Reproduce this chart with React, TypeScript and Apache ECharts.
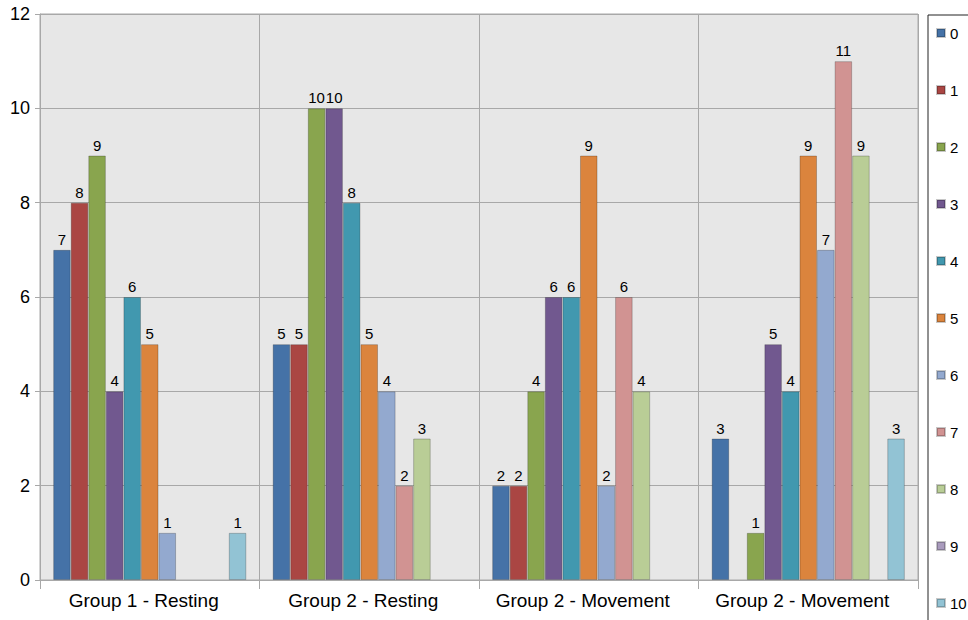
import React, { useEffect, useRef } from "react";
import * as echarts from "echarts";

// Category names along the x axis
const categories = [
  "Group 1 - Resting",
  "Group 2 - Resting",
  "Group 2 - Movement",
  "Group 2 - Movement",
];

// One series per legend entry (0..10); null = no bar
const s0 = [7, 5, 2, 3];
const s1 = [8, 5, 2, null];
const s2 = [9, 10, 4, 1];
const s3 = [4, 10, 6, 5];
const s4 = [6, 8, 6, 4];
const s5 = [5, 5, 9, 9];
const s6 = [1, 4, 2, 7];
const s7 = [null, 2, 6, 11];
const s8 = [null, 3, 4, 9];
const s9 = [null, null, null, null];
const s10 = [1, null, null, 3];

const seriesNames = ["0", "1", "2", "3", "4", "5", "6", "7", "8", "9", "10"];
const seriesValues = [s0, s1, s2, s3, s4, s5, s6, s7, s8, s9, s10];

const palette = [
  "#4572A7",
  "#AA4643",
  "#89A54E",
  "#71588F",
  "#4198AF",
  "#DB843D",
  "#93A9CF",
  "#D19392",
  "#B9CD96",
  "#A99BBD",
  "#92C3D4",
];

const FONT = "'Liberation Sans', Arial, Helvetica, sans-serif";

export default function App() {
  const ref = useRef<HTMLDivElement>(null);

  useEffect(() => {
    if (!ref.current) return;
    const chart = echarts.init(ref.current, null, { renderer: "svg" });
    chart.setOption({
      animation: false,
      backgroundColor: "#ffffff",
      color: palette,
      textStyle: { fontFamily: FONT },
      grid: {
        left: 40,
        right: 50,
        top: 14,
        bottom: 40,
        show: true,
        backgroundColor: "#e7e7e7",
        borderColor: "#a8a8a8",
        borderWidth: 1,
      },
      legend: {
        orient: "vertical",
        left: 928,
        top: 15,
        height: 720,
        padding: [10, 12, 12, 8],
        itemWidth: 8,
        itemHeight: 8,
        itemGap: 41,
        icon: "rect",
        borderColor: "#222",
        borderWidth: 1,
        backgroundColor: "#ffffff",
        textStyle: { fontSize: 15, color: "#000", fontFamily: FONT, lineHeight: 16 },
        data: seriesNames,
      },
      xAxis: {
        type: "category",
        data: categories,
        boundaryGap: true,
        axisLine: { show: true, lineStyle: { color: "#a8a8a8" } },
        axisTick: { show: true, length: 9, interval: 0, lineStyle: { color: "#a8a8a8" } },
        axisLabel: {
          fontSize: 19,
          color: "#000",
          margin: 11,
          interval: 0,
          fontFamily: FONT,
          padding: [0, 12, 0, 0],
        },
        splitLine: { show: true, interval: 0, lineStyle: { color: "#a8a8a8" } },
      },
      yAxis: {
        type: "value",
        min: 0,
        max: 12,
        interval: 2,
        axisLine: { show: true, lineStyle: { color: "#a8a8a8" } },
        axisTick: { show: true, length: 5, lineStyle: { color: "#a8a8a8" } },
        axisLabel: { fontSize: 18, color: "#000", margin: 10, fontFamily: FONT },
        splitLine: { show: true, lineStyle: { color: "#a8a8a8" } },
      },
      series: seriesNames.map((name, i) => ({
        name,
        type: "bar",
        data: seriesValues[i],
        barGap: "0%",
        barCategoryGap: "12%",
        itemStyle: {
          color: palette[i],
          borderColor: "rgba(0,0,0,0.22)",
          borderWidth: 1,
        },
        label: {
          show: true,
          position: "top",
          distance: 3,
          fontSize: 15,
          color: "#000",
          fontFamily: FONT,
        },
      })),
    });
    return () => chart.dispose();
  }, []);

  return (
    <div
      ref={ref}
      style={{ position: "fixed", left: 0, top: 0, width: 968, height: 620 }}
    />
  );
}
